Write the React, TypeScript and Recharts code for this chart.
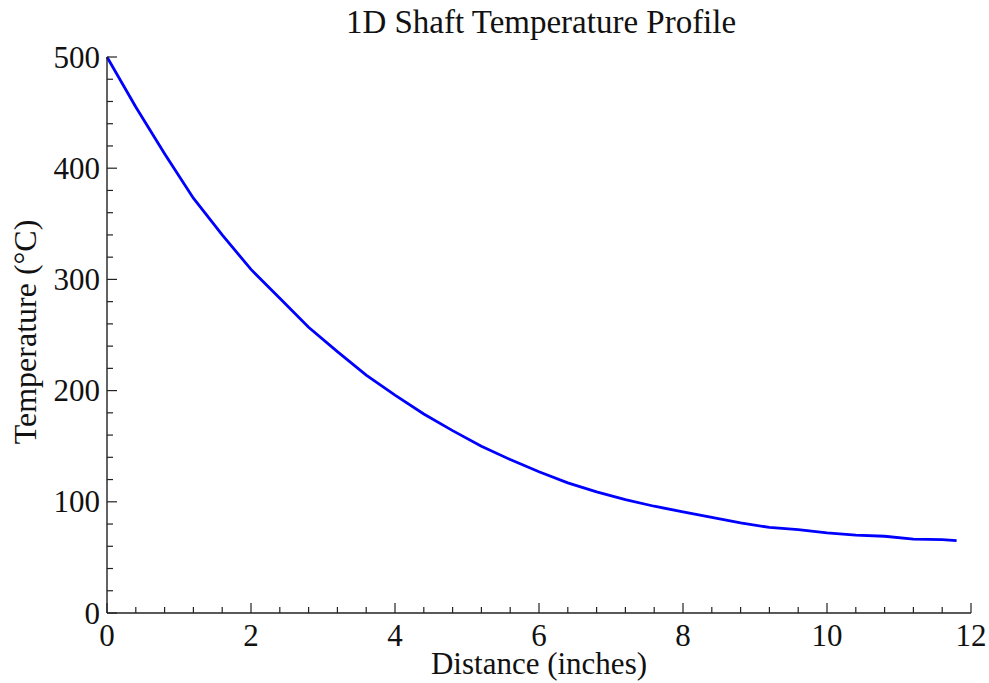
import { LineChart, Line, XAxis, YAxis } from "recharts";

// Temperature readings along the shaft, sampled every 0.4 in.
const distanceIn = [
  0, 0.4, 0.8, 1.2, 1.6, 2.0, 2.4, 2.8, 3.2, 3.6, 4.0, 4.4, 4.8, 5.2, 5.6, 6.0,
  6.4, 6.8, 7.2, 7.6, 8.0, 8.4, 8.8, 9.2, 9.6, 10.0, 10.4, 10.8, 11.2, 11.6, 11.8,
];
const temperatureC = [
  500, 455, 413, 373, 340, 309, 283, 257, 235, 214, 196, 179, 164, 150, 138, 127,
  117, 109, 102, 96, 91, 86, 81, 77, 75, 72, 70, 69, 66.5, 66, 65,
];

const xMajorTicks = [0, 2, 4, 6, 8, 10, 12];
const xMinorTicks = [
  0.4, 0.8, 1.2, 1.6, 2.4, 2.8, 3.2, 3.6, 4.4, 4.8, 5.2, 5.6, 6.4, 6.8, 7.2, 7.6,
  8.4, 8.8, 9.2, 9.6, 10.4, 10.8, 11.2, 11.6,
];
const yMajorTicks = [0, 100, 200, 300, 400, 500];
const yMinorTicks = [
  20, 40, 60, 80, 120, 140, 160, 180, 220, 240, 260, 280, 320, 340, 360, 380,
  420, 440, 460, 480,
];

const data = distanceIn.map((d, i) => ({ d, t: temperatureC[i] }));

const FONT = '"Liberation Serif", "Times New Roman", serif';
const INK = "#111";
const AXIS = "#222";

// inward-pointing ticks; only the majors get a number
function XTick({ x, y, payload }: any) {
  const major = xMajorTicks.includes(payload.value);
  return (
    <g>
      <line x1={x} y1={y} x2={x} y2={y - (major ? 10 : 6)} stroke={AXIS} strokeWidth={1.2} />
      {major && (
        <text x={x} y={y + 33} textAnchor="middle" fontFamily={FONT} fontSize={31} fill={INK}>
          {payload.value}
        </text>
      )}
    </g>
  );
}

function YTick({ x, y, payload }: any) {
  const major = yMajorTicks.includes(payload.value);
  return (
    <g>
      <line x1={x} y1={y} x2={x + (major ? 10 : 6)} y2={y} stroke={AXIS} strokeWidth={1.2} />
      {major && (
        <text x={x - 7} y={y + 10.5} textAnchor="end" fontFamily={FONT} fontSize={31} fill={INK}>
          {payload.value}
        </text>
      )}
    </g>
  );
}

export default function App() {
  return (
    <div style={{ position: "absolute", left: 0, top: 0, width: 989, height: 683, background: "#fff" }}>
      <svg width={989} height={44} style={{ position: "absolute", left: 0, top: 0 }}>
        <text x={541} y={33} textAnchor="middle" fontFamily={FONT} fontSize={33} fill={INK}>
          1D Shaft Temperature Profile
        </text>
      </svg>
      <LineChart width={989} height={683} data={data} margin={{ top: 57, right: 18, bottom: 0, left: 0 }}>
        <XAxis
          dataKey="d"
          type="number"
          domain={[0, 12]}
          ticks={[...xMajorTicks, ...xMinorTicks].sort((a, b) => a - b)}
          interval={0}
          height={70}
          tickSize={0}
          tickMargin={0}
          tickLine={false}
          axisLine={{ stroke: AXIS, strokeWidth: 1.4 }}
          tick={<XTick />}
          label={(p: any) => (
            <text
              x={p.viewBox.x + p.viewBox.width / 2}
              y={p.viewBox.y + 61}
              textAnchor="middle"
              fontFamily={FONT}
              fontSize={31}
              fill={INK}
            >
              Distance (inches)
            </text>
          )}
        />
        <YAxis
          dataKey="t"
          type="number"
          domain={[0, 500]}
          ticks={[...yMajorTicks, ...yMinorTicks].sort((a, b) => a - b)}
          interval={0}
          width={107}
          tickSize={0}
          tickMargin={0}
          tickLine={false}
          axisLine={{ stroke: AXIS, strokeWidth: 1.4 }}
          tick={<YTick />}
          label={(p: any) => {
            const cy = p.viewBox.y + p.viewBox.height / 2 - 3;
            return (
              <text
                x={36}
                y={cy}
                transform={`rotate(-90, 36, ${cy})`}
                textAnchor="middle"
                fontFamily={FONT}
                fontSize={32}
                fill={INK}
              >
                Temperature (°C)
              </text>
            );
          }}
        />
        <Line
          dataKey="t"
          type="linear"
          stroke="#0000ff"
          strokeWidth={2.8}
          dot={false}
          isAnimationActive={false}
        />
      </LineChart>
    </div>
  );
}
